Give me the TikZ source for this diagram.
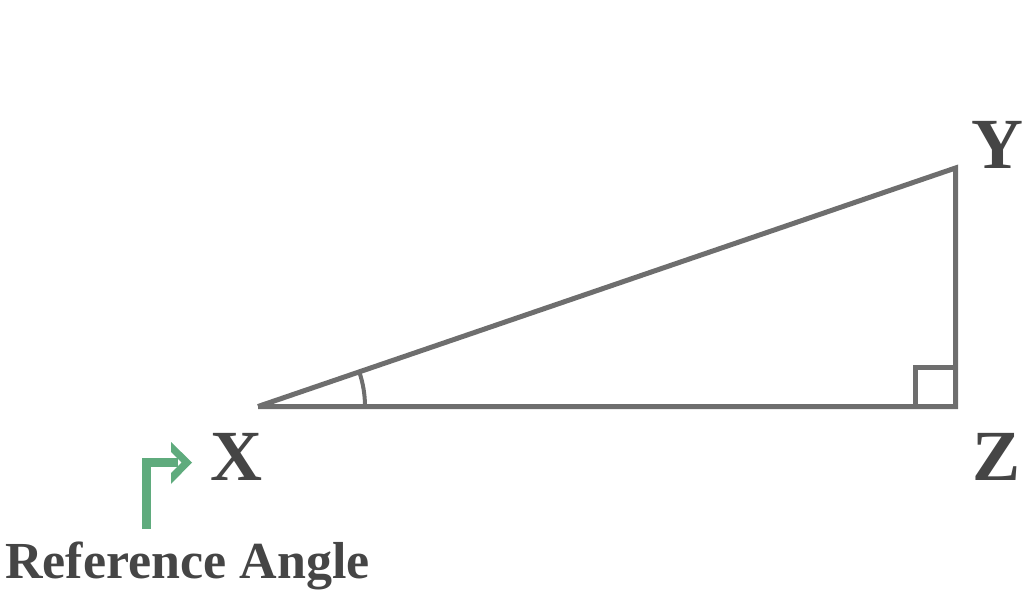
\documentclass[tikz,border=0pt]{standalone}
\usepackage{fontspec}
\setmainfont{Liberation Serif}
\definecolor{edgegray}{HTML}{6E6E6E}
\definecolor{textgray}{HTML}{454545}
\definecolor{refgreen}{HTML}{5FAB7D}
\tikzset{
	side/.style={draw=edgegray,line width=5pt},
	vertexlabel/.style={anchor=base,text=textgray,font=\fontsize{72}{72}\selectfont\bfseries,inner sep=0pt}
}
\begin{document}
\begin{tikzpicture}[x=1pt,y=1pt]
	\useasboundingbox (0,0) rectangle (1024,592);
	
	\coordinate (X) at (258,185.5);
	\coordinate (Z) at (955.5,185.5);
	\coordinate (Y) at (955.5,424);
	
	\draw[side] (X) -- (Z) -- (Y) -- (X);
	\draw[side] (Z) ++(-40,0) -- ++(0,39) -- ++(40,0);
	\draw[draw=edgegray,line width=4pt] (X) ++(107pt,0) arc[start angle=0,end angle=18.88,radius=107pt];
	
	\node[vertexlabel] (xlabel) at (236,112) {X};
	\node[vertexlabel] (ylabel) at (997,423) {Y};
	\node[vertexlabel] (zlabel) at (996,112) {Z};
	
	% green arrow
	\draw[refgreen,line width=9pt,line join=miter] (146.5,63) -- (146.5,129.5) -- (178,129.5);
	\fill[refgreen] (171,150) -- (192,129.5) -- (171,108) -- (171,119) -- (181.5,129.5) -- (171,140) -- cycle;
	
	\node[anchor=base,text=textgray,font=\fontsize{52}{52}\selectfont\bfseries,inner sep=0pt] (reflabel) at (187.5,14) {Reference Angle};
\end{tikzpicture}
\end{document}
